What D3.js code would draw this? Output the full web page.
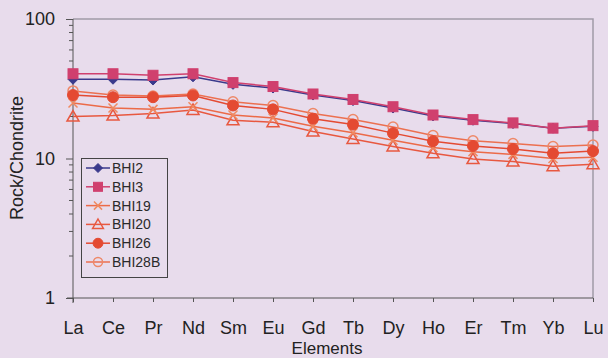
<!DOCTYPE html>
<html><head><meta charset="utf-8">
<script src="https://cdn.jsdelivr.net/npm/d3@7"></script>
<style>
html,body{margin:0;padding:0;background:#e8dcec;}
svg{display:block;font-family:"Liberation Sans",Arial,sans-serif;}
</style></head>
<body>
<script>
const categories = ["La","Ce","Pr","Nd","Sm","Eu","Gd","Tb","Dy","Ho","Er","Tm","Yb","Lu"];
const BHI2   = [37, 37, 36.5, 38.5, 34, 32, 28.5, 26, 23, 20.2, 18.8, 17.8, 16.5, 17];
const BHI3   = [40.5, 40.5, 39.5, 40.5, 35, 32.8, 29, 26.5, 23.5, 20.5, 19, 18, 16.5, 17.2];
const BHI19  = [25, 23, 22.5, 23.5, 20.5, 19.5, 17, 15.3, 13.5, 12, 11.2, 10.7, 10, 10.2];
const BHI20  = [20, 20.3, 21, 22.3, 18.8, 18.2, 15.6, 13.8, 12.2, 10.9, 9.9, 9.5, 8.8, 9.1];
const BHI26  = [28.5, 27.5, 27.5, 28.3, 24, 22.5, 19.3, 17.5, 15.2, 13.3, 12.3, 11.7, 10.9, 11.3];
const BHI28B = [30.5, 28.5, 28, 29, 25.5, 24, 21, 19, 16.8, 14.6, 13.4, 12.8, 12.2, 12.5];
const yTicks = [1, 10, 100];

const series = [
  {name:"BHI2",  values:BHI2,  line:"#3a3a8c", shape:"diamond", fill:"#3a3a8c", stroke:"#3a3a8c"},
  {name:"BHI3",  values:BHI3,  line:"#d0406e", shape:"square",  fill:"#d0406e", stroke:"#d0406e"},
  {name:"BHI19", values:BHI19, line:"#ec6a48", shape:"x",       fill:"none",    stroke:"#f08a60"},
  {name:"BHI20", values:BHI20, line:"#e85840", shape:"triangle",fill:"none",    stroke:"#e85840"},
  {name:"BHI26", values:BHI26, line:"#e44a32", shape:"circle",  fill:"#e44a32", stroke:"#e44a32"},
  {name:"BHI28B",values:BHI28B,line:"#ec7050", shape:"ocircle", fill:"none",    stroke:"#ee8868"}
];

const W = 608, H = 358;
const svg = d3.select("body").append("svg").attr("width", W).attr("height", H);
svg.append("rect").attr("width", W).attr("height", H).attr("fill", "#e8dcec");

const x = d3.scalePoint().domain(categories).range([73, 593]);
const y = d3.scaleLog().domain([1, 100]).range([298, 19]);

// frame (top and right)
svg.append("path")
  .attr("d", `M${x.range()[0]},${y(100)}H${x.range()[1]}V${y(1)}`)
  .attr("fill","none").attr("stroke","#a09aa6").attr("stroke-width",1.5);

// minor y ticks
const minor = [];
for (let d = 1; d < 100; d *= 10) for (let k = 2; k <= 9; k++) minor.push(k * d);
svg.append("g").selectAll("line").data(minor).join("line")
  .attr("x1", 69).attr("x2", 73).attr("y1", d => y(d)).attr("y2", d => y(d))
  .attr("stroke", "#555").attr("stroke-width", 1);

// y axis
const yAxis = svg.append("g").attr("transform", "translate(73,0)")
  .call(d3.axisLeft(y).tickValues(yTicks).tickFormat(d3.format("d")).tickSize(7).tickPadding(11));
yAxis.select(".domain").attr("stroke", "#555").attr("d", `M0,${y(100)}V${y(1)+5}`);
yAxis.selectAll(".tick line").attr("stroke", "#555");
yAxis.selectAll(".tick text").attr("font-size", 18).attr("fill", "#222")
  .attr("font-family", '"Liberation Sans",Arial,sans-serif');

// x axis
const xAxis = svg.append("g").attr("transform", `translate(0,${y(1)})`)
  .call(d3.axisBottom(x).tickSize(4).tickPadding(19));
xAxis.select(".domain").attr("stroke", "#555").attr("d", `M${x.range()[0]-6},0H${x.range()[1]}`);
xAxis.selectAll(".tick line").attr("stroke", "#555");
xAxis.selectAll(".tick text").attr("font-size", 18).attr("fill", "#222")
  .attr("font-family", '"Liberation Sans",Arial,sans-serif');

// axis titles
svg.append("text").attr("x", 327).attr("y", 354).attr("text-anchor", "middle")
  .attr("font-size", 17).attr("fill", "#222").text("Elements");
svg.append("text").attr("transform", "translate(23,158) rotate(-90)").attr("text-anchor", "middle")
  .attr("font-size", 18).attr("fill", "#222").text("Rock/Chondrite");

function drawMarker(g, s, cx, cy, scale) {
  const k = scale || 1;
  if (s.shape === "diamond") {
    const r = 5 * k;
    g.append("path").attr("d", `M${cx},${cy-r}L${cx+r},${cy}L${cx},${cy+r}L${cx-r},${cy}Z`)
      .attr("fill", s.fill).attr("stroke", s.stroke);
  } else if (s.shape === "square") {
    const r = 5 * k;
    g.append("rect").attr("x", cx-r).attr("y", cy-r).attr("width", 2*r).attr("height", 2*r)
      .attr("fill", s.fill).attr("stroke", s.stroke);
  } else if (s.shape === "x") {
    const r = 4.5 * k;
    g.append("path").attr("d", `M${cx-r},${cy-r}L${cx+r},${cy+r}M${cx-r},${cy+r}L${cx+r},${cy-r}`)
      .attr("fill", "none").attr("stroke", s.stroke).attr("stroke-width", 1.5);
  } else if (s.shape === "triangle") {
    const r = 6 * k;
    g.append("path").attr("d", `M${cx},${cy-r}L${cx+r},${cy+r*0.75}L${cx-r},${cy+r*0.75}Z`)
      .attr("fill", "none").attr("stroke", s.stroke).attr("stroke-width", 1.5);
  } else if (s.shape === "circle") {
    g.append("circle").attr("cx", cx).attr("cy", cy).attr("r", 5.5 * k)
      .attr("fill", s.fill).attr("stroke", s.stroke);
  } else if (s.shape === "ocircle") {
    g.append("circle").attr("cx", cx).attr("cy", cy).attr("r", 5 * k)
      .attr("fill", "none").attr("stroke", s.stroke).attr("stroke-width", 1.5);
  }
}

const line = d3.line().x((d, i) => x(categories[i])).y(d => y(d));
const order = [5, 3, 2, 4, 0, 1];
order.forEach(idx => {
  const s = series[idx];
  const g = svg.append("g");
  g.append("path").attr("d", line(s.values)).attr("fill", "none")
    .attr("stroke", s.line).attr("stroke-width", 1.5);
  s.values.forEach((v, i) => drawMarker(g, s, x(categories[i]), y(v)));
});

// legend
const lg = svg.append("g");
lg.append("rect").attr("x", 81.5).attr("y", 158.5).attr("width", 86).attr("height", 119)
  .attr("fill", "#e8dcec").attr("stroke", "#444").attr("stroke-width", 1);
const clip = svg.append("clipPath").attr("id", "lgclip");
clip.append("rect").attr("x", 82).attr("y", 159).attr("width", 85).attr("height", 118);
const lgi = lg.append("g").attr("clip-path", "url(#lgclip)");
series.forEach((s, i) => {
  const cy = 168 + i * 18.8;
  lgi.append("line").attr("x1", 86).attr("x2", 110).attr("y1", cy).attr("y2", cy)
    .attr("stroke", s.line).attr("stroke-width", 1.5);
  drawMarker(lgi, s, 98, cy, 0.9);
  lgi.append("text").attr("x", 112).attr("y", cy + 5).attr("font-size", 14).attr("fill", "#2a2a2a").text(s.name);
});
</script>
</body></html>
